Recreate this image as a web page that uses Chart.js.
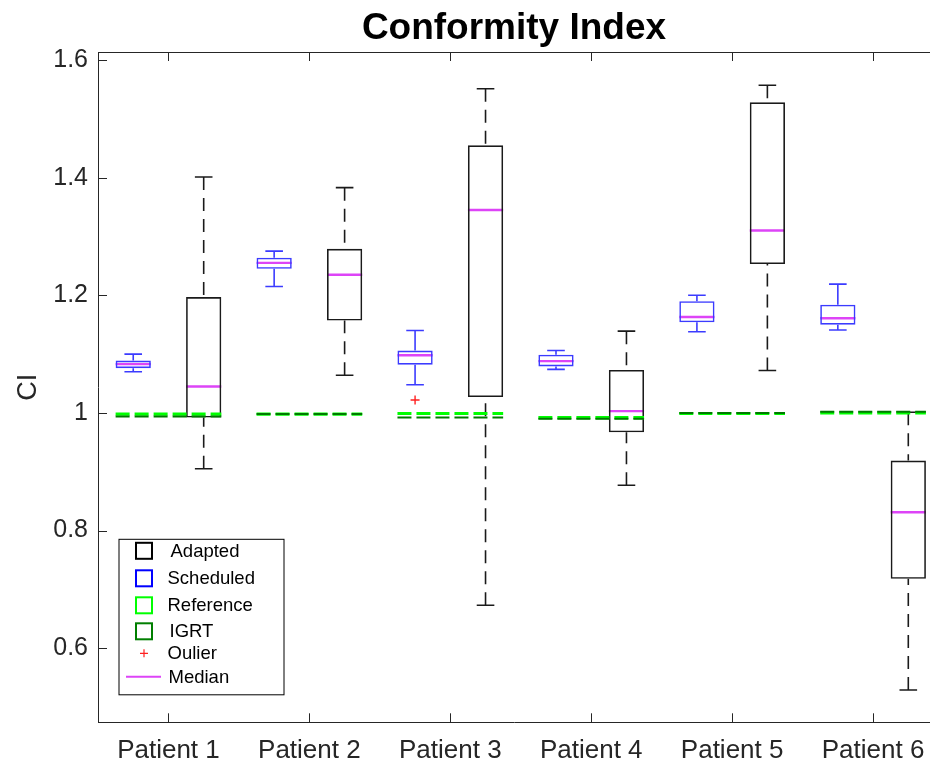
<!DOCTYPE html>
<html>
<head>
<meta charset="utf-8">
<title>Conformity Index</title>
<script src="https://cdn.jsdelivr.net/npm/chart.js@4.4.1/dist/chart.umd.min.js"></script>
<style>
  html, body { margin: 0; padding: 0; background: #ffffff; overflow: hidden; }
  #wrap { width: 930px; height: 761px; }
</style>
</head>
<body>
<div id="wrap"><canvas id="ci" width="930" height="761"></canvas></div>
<script>
// ---- data ----
const categories = ['Patient 1', 'Patient 2', 'Patient 3', 'Patient 4', 'Patient 5', 'Patient 6'];
const yTickValues = [0.6, 0.8, 1, 1.2, 1.4, 1.6];
const yTickLabels = ['0.6', '0.8', '1', '1.2', '1.4', '1.6'];

// Adapted plans (black boxes): whisker ends, quartiles, median
const adaptedLow    = [0.905, 1.064, 0.673, 0.877, 1.072, 0.529];
const adaptedQ1     = [0.992, 1.157, 1.027, 0.967, 1.253, 0.718];
const adaptedMedian = [1.045, 1.235, 1.345, 1.003, 1.310, 0.831];
const adaptedQ3     = [1.197, 1.279, 1.455, 1.073, 1.528, 0.919];
const adaptedHigh   = [1.401, 1.383, 1.551, 1.139, 1.557, 1.001];

// Scheduled plans (blue boxes)
const scheduledLow    = [1.070, 1.215, 1.048, 1.074, 1.138, 1.141];
const scheduledQ1     = [1.076, 1.245, 1.082, 1.079, 1.154, 1.150];
const scheduledMedian = [1.083, 1.255, 1.098, 1.088, 1.163, 1.161];
const scheduledQ3     = [1.089, 1.264, 1.106, 1.099, 1.190, 1.184];
const scheduledHigh   = [1.100, 1.275, 1.140, 1.106, 1.200, 1.219];
const scheduledOutliers = [[], [], [1.022], [], [], []];

// Single-value plans (flat dashed lines)
const referenceCI = [0.998, 0.998, 0.999, 0.992, 0.999, 1.000];
const igrtCI      = [0.994, 0.998, 0.992, 0.990, 1.000, 1.002];

// ---- styling ----
const FONT = "'Liberation Sans', Arial, Helvetica, sans-serif";
const AXIS_COLOR = '#262626';
const ADAPTED_COLOR = '#1a1a1a';
const SCHEDULED_COLOR = '#3b3bff';
const REFERENCE_COLOR = '#00ff00';
const IGRT_COLOR = '#007a00';
const MEDIAN_COLOR = '#dd44f7';
const OUTLIER_COLOR = '#ff2020';

const BOX_OFFSET = 0.25;   // horizontal shift of each box from its patient tick
const BOX_HALF = 0.125;    // half box width, in x units
const CAP_HALF = 0.0625;   // half whisker-cap width, in x units

const groups = [
  { offset: -BOX_OFFSET, color: SCHEDULED_COLOR, dash: [], low: scheduledLow, q1: scheduledQ1,
    median: scheduledMedian, q3: scheduledQ3, high: scheduledHigh },
  { offset: BOX_OFFSET, color: ADAPTED_COLOR, dash: [13, 8], low: adaptedLow, q1: adaptedQ1,
    median: adaptedMedian, q3: adaptedQ3, high: adaptedHigh }
];

// flat line segments spanning both boxes of a patient; null breaks between patients
function flatSegments(values) {
  const pts = [];
  values.forEach((v, i) => {
    pts.push({ x: i - BOX_OFFSET - BOX_HALF, y: v });
    pts.push({ x: i + BOX_OFFSET + BOX_HALF, y: v });
    pts.push({ x: i + 0.5, y: null });
  });
  return pts;
}

// whiskers, caps and medians drawn through the chart scales
const boxWhiskers = {
  id: 'boxWhiskers',
  beforeDatasetsDraw(chart) {
    const { ctx, chartArea, scales: { x, y } } = chart;
    ctx.save();
    ctx.beginPath();
    ctx.rect(chartArea.left, chartArea.top, chartArea.right - chartArea.left, chartArea.bottom - chartArea.top);
    ctx.clip();
    groups.forEach(g => {
      categories.forEach((_, i) => {
        const cx = x.getPixelForValue(i + g.offset);
        const capL = x.getPixelForValue(i + g.offset - CAP_HALF);
        const capR = x.getPixelForValue(i + g.offset + CAP_HALF);
        const yLow = y.getPixelForValue(g.low[i]);
        const yHigh = y.getPixelForValue(g.high[i]);
        const yQ1 = y.getPixelForValue(g.q1[i]);
        const yQ3 = y.getPixelForValue(g.q3[i]);
        ctx.strokeStyle = g.color;
        ctx.lineWidth = 1.6;
        // whisker stems, dashed from the cap towards the box
        ctx.setLineDash(g.dash);
        ctx.beginPath();
        ctx.moveTo(cx, yHigh); ctx.lineTo(cx, yQ3);
        ctx.stroke();
        ctx.beginPath();
        ctx.moveTo(cx, yLow); ctx.lineTo(cx, yQ1);
        ctx.stroke();
        // caps
        ctx.setLineDash([]);
        ctx.beginPath();
        ctx.moveTo(capL, yHigh); ctx.lineTo(capR, yHigh);
        ctx.moveTo(capL, yLow); ctx.lineTo(capR, yLow);
        ctx.stroke();
        // median
        const bl = x.getPixelForValue(i + g.offset - BOX_HALF);
        const br = x.getPixelForValue(i + g.offset + BOX_HALF);
        const ym = y.getPixelForValue(g.median[i]);
        ctx.strokeStyle = MEDIAN_COLOR;
        ctx.lineWidth = 2.4;
        ctx.beginPath();
        ctx.moveTo(bl, ym); ctx.lineTo(br, ym);
        ctx.stroke();
      });
    });
    ctx.restore();
  }
};

// inward tick marks and the top frame line
const axisFrame = {
  id: 'axisFrame',
  afterDraw(chart) {
    const { ctx, chartArea, scales: { x, y } } = chart;
    const len = 9;
    ctx.save();
    ctx.strokeStyle = AXIS_COLOR;
    ctx.lineWidth = 1;
    ctx.beginPath();
    ctx.moveTo(chartArea.left, chartArea.top + 0.5);
    ctx.lineTo(chartArea.right, chartArea.top + 0.5);
    y.ticks.forEach(t => {
      const py = Math.round(y.getPixelForValue(t.value)) + 0.5;
      ctx.moveTo(chartArea.left, py);
      ctx.lineTo(chartArea.left + len, py);
    });
    x.ticks.forEach(t => {
      const px = Math.round(x.getPixelForValue(t.value)) + 0.5;
      ctx.moveTo(px, chartArea.bottom);
      ctx.lineTo(px, chartArea.bottom - len);
      ctx.moveTo(px, chartArea.top);
      ctx.lineTo(px, chartArea.top + len);
    });
    ctx.stroke();
    ctx.restore();
  }
};

// boxed legend in the lower-left corner of the plot
const legendItems = [
  { label: 'Adapted',   kind: 'square', color: '#000000' },
  { label: 'Scheduled', kind: 'square', color: '#0000ff' },
  { label: 'Reference', kind: 'square', color: '#00ff00' },
  { label: 'IGRT',      kind: 'square', color: '#007f00' },
  { label: 'Oulier',    kind: 'plus',   color: OUTLIER_COLOR },
  { label: 'Median',    kind: 'line',   color: MEDIAN_COLOR }
];
const innerLegend = {
  id: 'innerLegend',
  afterDraw(chart) {
    const { ctx, chartArea } = chart;
    const left = chartArea.left + 20.5;
    const top = chartArea.bottom - 183.5;
    const w = 165, h = 155.5;
    const rowOffsets = [12, 39.5, 66.5, 92.5, 114.5, 138];
    const textOffsets = [52, 49, 49, 51, 49, 50];
    ctx.save();
    ctx.fillStyle = '#ffffff';
    ctx.fillRect(left, top, w, h);
    ctx.strokeStyle = '#000000';
    ctx.lineWidth = 1;
    ctx.strokeRect(left + 0.5, top + 0.5, w, h);
    ctx.font = '18.5px ' + FONT;
    ctx.textBaseline = 'middle';
    legendItems.forEach((it, k) => {
      const cy = top + rowOffsets[k];
      const iconX = left + 25.5;
      if (it.kind === 'square') {
        ctx.strokeStyle = it.color;
        ctx.lineWidth = 2;
        ctx.strokeRect(iconX - 8, cy - 8, 16, 16);
      } else if (it.kind === 'plus') {
        ctx.strokeStyle = it.color;
        ctx.lineWidth = 1.2;
        ctx.beginPath();
        ctx.moveTo(iconX - 4, cy); ctx.lineTo(iconX + 4, cy);
        ctx.moveTo(iconX, cy - 4); ctx.lineTo(iconX, cy + 4);
        ctx.stroke();
      } else {
        ctx.strokeStyle = it.color;
        ctx.lineWidth = 2;
        ctx.beginPath();
        ctx.moveTo(iconX - 18, cy); ctx.lineTo(iconX + 17, cy);
        ctx.stroke();
      }
      ctx.fillStyle = '#000000';
      ctx.fillText(it.label, left + textOffsets[k], cy + 1);
    });
    ctx.restore();
  }
};

const boxDataset = (g, label) => ({
  type: 'bar',
  label: label,
  data: categories.map((_, i) => ({ x: i + g.offset, y: [g.q1[i], g.q3[i]] })),
  backgroundColor: 'rgba(0,0,0,0)',
  borderColor: g.color,
  borderWidth: 1.6,
  borderSkipped: false,
  grouped: false,
  categoryPercentage: 1,
  barPercentage: 0.5,
  order: 3
});

new Chart(document.getElementById('ci'), {
  type: 'bar',
  data: {
    datasets: [
      boxDataset(groups[0], 'Scheduled'),
      boxDataset(groups[1], 'Adapted'),
      {
        type: 'line', label: 'Reference', data: flatSegments(referenceCI),
        borderColor: REFERENCE_COLOR, borderWidth: 3.2, borderDash: [14, 5],
        pointRadius: 0, spanGaps: false, order: 1
      },
      {
        type: 'line', label: 'IGRT', data: flatSegments(igrtCI),
        borderColor: IGRT_COLOR, borderWidth: 2, borderDash: [14, 5],
        pointRadius: 0, spanGaps: false, order: 0
      },
      {
        type: 'line', label: 'Oulier',
        data: scheduledOutliers.flatMap((vals, i) => vals.map(v => ({ x: i - BOX_OFFSET, y: v }))),
        showLine: false, pointStyle: 'cross', pointRadius: 4.5, pointBorderWidth: 1.4,
        borderColor: OUTLIER_COLOR, pointBorderColor: OUTLIER_COLOR, order: 0
      }
    ]
  },
  options: {
    responsive: false,
    animation: false,
    devicePixelRatio: 1,
    // the plot frame runs to the right edge of the canvas
    layout: { padding: 0, autoPadding: false },
    plugins: {
      legend: { display: false },
      tooltip: { enabled: false },
      title: {
        display: true,
        text: 'Conformity Index',
        fullSize: false,
        color: '#000000',
        font: { family: FONT, size: 37, weight: 'bold' },
        padding: { top: 7, bottom: 0.6 }
      }
    },
    scales: {
      x: {
        type: 'linear',
        min: -0.5,
        max: 5.404,
        offset: false,
        grid: { display: false, drawTicks: false },
        border: { display: true, color: AXIS_COLOR, width: 1 },
        afterBuildTicks: s => { s.ticks = categories.map((_, i) => ({ value: i })); },
        afterFit: s => { s.height = 38.7; s.paddingLeft = 0; s.paddingRight = 0; },
        ticks: {
          autoSkip: false,
          maxRotation: 0,
          color: AXIS_COLOR,
          padding: 13,
          font: { family: FONT, size: 26 },
          callback: v => categories[v]
        }
      },
      y: {
        type: 'linear',
        min: 0.474,
        max: 1.6136,
        beginAtZero: false,
        grid: { display: false, drawTicks: false },
        border: { display: true, color: AXIS_COLOR, width: 1 },
        afterBuildTicks: s => { s.ticks = yTickValues.map(v => ({ value: v })); },
        afterFit: s => { s.width = 98; s.paddingTop = 0; s.paddingBottom = 0; },
        ticks: {
          color: AXIS_COLOR,
          padding: 10,
          font: { family: FONT, size: 25 },
          callback: v => yTickLabels[yTickValues.indexOf(v)]
        },
        title: {
          display: true,
          text: 'CI',
          color: AXIS_COLOR,
          font: { family: FONT, size: 27 },
          padding: { top: 12, bottom: 0 }
        }
      }
    }
  },
  plugins: [boxWhiskers, axisFrame, innerLegend]
});
</script>
</body>
</html>
